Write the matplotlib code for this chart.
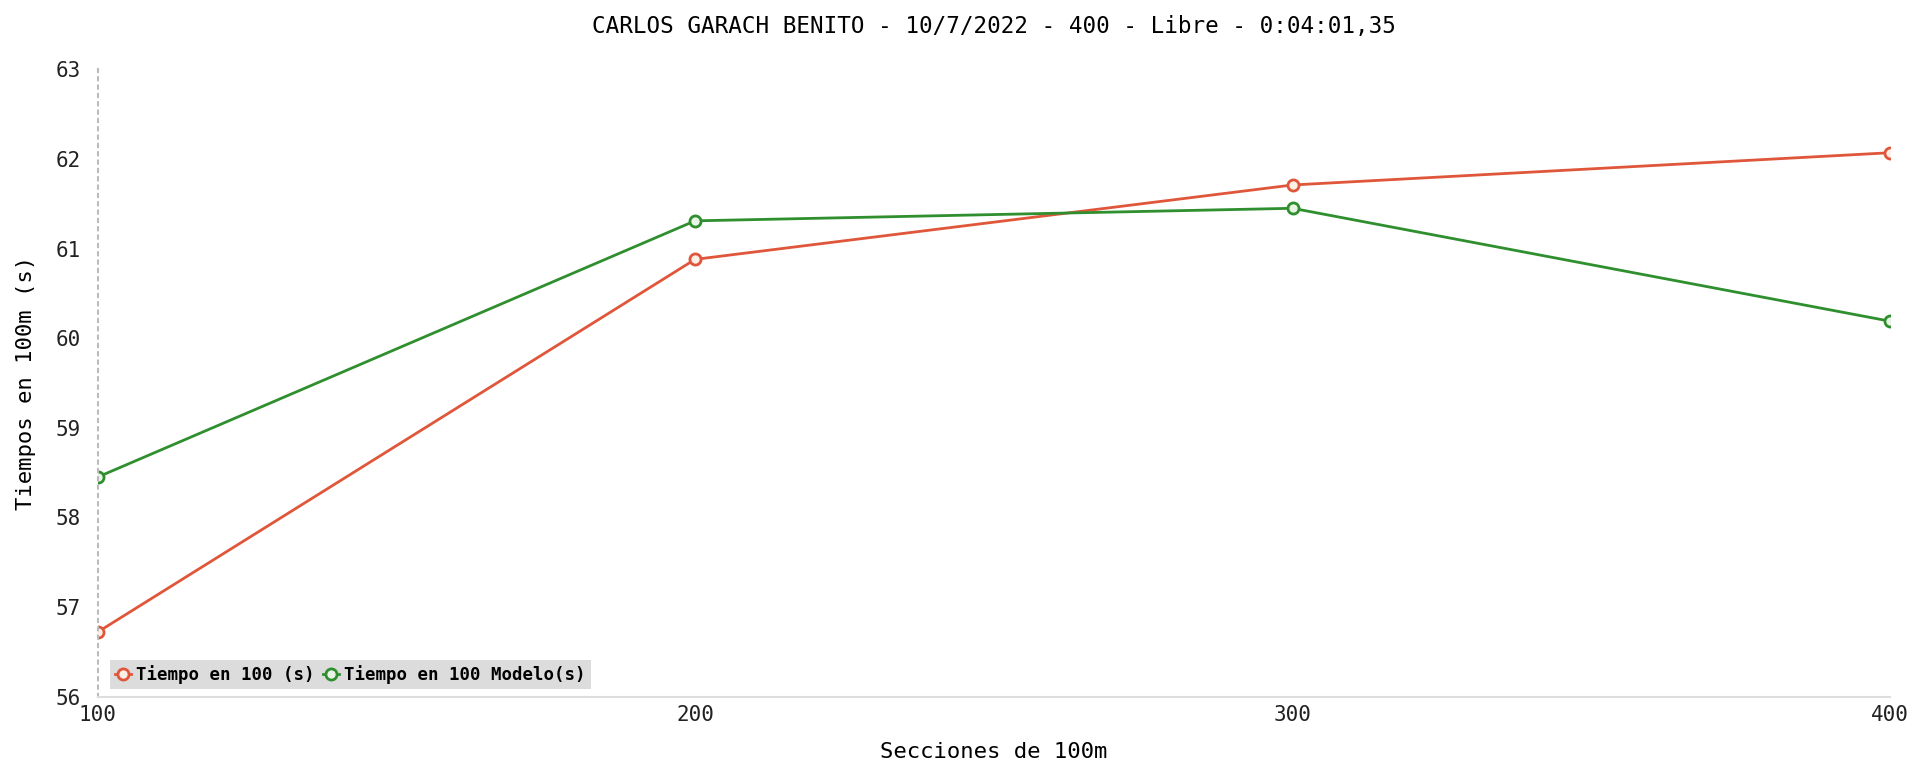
import matplotlib.pyplot as plt

secciones = [100, 200, 300, 400]
tiempo = [56.72, 60.88, 61.71, 62.07]
tiempo_modelo = [58.45, 61.31, 61.45, 60.19]
y_ticks = [56, 57, 58, 59, 60, 61, 62, 63]

plt.rcParams['font.family'] = 'DejaVu Sans Mono'

fig = plt.figure(figsize=(19.13, 7.65), dpi=100)
ax = fig.add_axes([0.051, 0.0893, 0.937, 0.82])

red = '#e0563a'
green = '#2f8f2f'

ax.plot(secciones, tiempo, color=red, lw=2, marker='o', ms=8,
        mfc='#fdeee6', mec=red, mew=2, label='Tiempo en 100 (s)')
ax.plot(secciones, tiempo_modelo, color=green, lw=2, marker='o', ms=8,
        mfc='#e8f5e4', mec=green, mew=2, label='Tiempo en 100 Modelo(s)')

ax.set_xlim(100, 400)
ax.set_ylim(56, 63)
ax.set_xticks(secciones)
ax.set_yticks(y_ticks)
ax.tick_params(length=0, labelsize=15, colors='#222222')
ax.tick_params(axis='y', pad=12)
ax.tick_params(axis='x', pad=6)

for s in ['top', 'right']:
    ax.spines[s].set_visible(False)
ax.spines['left'].set_linestyle((0, (1.5, 2.5)))
ax.spines['left'].set_color('#bbbbbb')
ax.spines['left'].set_linewidth(1.5)
ax.spines['bottom'].set_color('#dddddd')
ax.spines['bottom'].set_linewidth(1.5)

ax.set_xlabel('Secciones de 100m', fontsize=16, labelpad=12)
ax.set_ylabel('Tiempos en 100m (s)', fontsize=16, labelpad=14)
ax.set_title('CARLOS GARACH BENITO - 10/7/2022 - 400 - Libre - 0:04:01,35',
             fontsize=16.3, pad=26)

leg = ax.legend(loc='lower left', ncol=2, frameon=True, fancybox=False,
                prop={'weight': 'bold', 'size': 12.5}, handlelength=0.9,
                handletextpad=0.3, columnspacing=0.5, borderpad=0.3,
                bbox_to_anchor=(0.002, -0.002))
leg.get_frame().set_facecolor('#dcdcdc')
leg.get_frame().set_edgecolor('none')
leg.get_frame().set_alpha(1)

fig.savefig('out.png', dpi=100)
